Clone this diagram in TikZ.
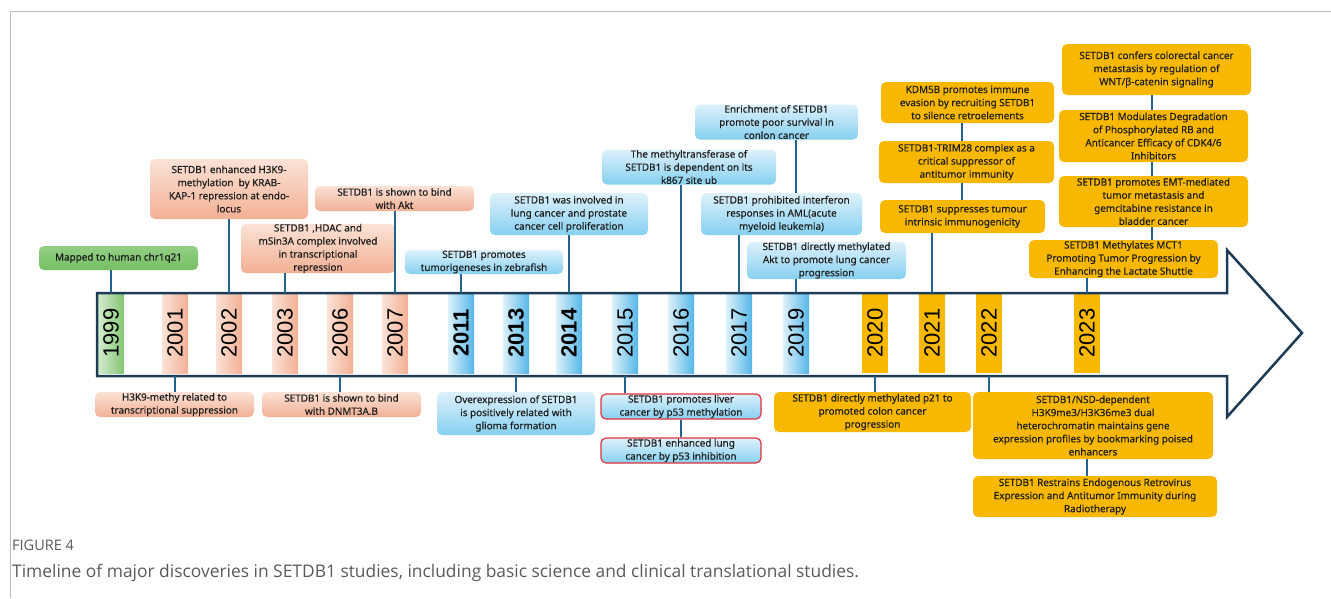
\documentclass[tikz,border=0pt]{standalone}
\usepackage{fontspec}
\setmainfont{Noto Sans}[FakeBold=0.35]
\newfontfamily\boxfont{Noto Sans}[FakeBold=0.4]
\newfontfamily\yearfont{Liberation Sans}
\newfontfamily\capfont{Open Sans}
\definecolor{salA}{HTML}{FBE2D6}
\definecolor{salB}{HTML}{F2B094}
\definecolor{bluA}{HTML}{DDF1FB}
\definecolor{bluB}{HTML}{86D0F0}
\definecolor{bandB}{HTML}{55B6E8}
\definecolor{grnA}{HTML}{93CF85}
\definecolor{grnB}{HTML}{76BE64}
\definecolor{gold}{HTML}{F8B800}
\definecolor{conncol}{HTML}{21628F}
\definecolor{arrcol}{HTML}{1D3B55}
\definecolor{txt}{HTML}{1E1E1E}
\definecolor{redb}{HTML}{E4303C}
\definecolor{capgray}{HTML}{5A5A5A}
\definecolor{framegray}{HTML}{BDBDBD}
\begin{document}
\begin{tikzpicture}[x=1pt,y=-1pt,
  ev/.style={rounded corners=5pt, align=center, inner sep=0pt, text=txt,
    font=\boxfont\fontsize{9.9}{13.1}\selectfont},
  salbox/.style={ev, top color=salA, bottom color=salB},
  blubox/.style={ev, top color=bluA, bottom color=bluB},
  grnbox/.style={ev, top color=grnA, bottom color=grnB},
  goldbox/.style={ev, fill=gold},
  redbox/.style={blubox, draw=redb, line width=1.2pt},
  band/.style={minimum width=26pt, minimum height=80pt, inner sep=0pt, draw=none},
  yeartxt/.style={rotate=90, inner sep=0pt, font=\yearfont\fontsize{22}{22}\selectfont, text=black},
  conn/.style={draw=conncol, line width=2.5pt},
  sz/.style 2 args={minimum width=#1pt, minimum height=#2pt},
]
\useasboundingbox (0,0) rectangle (1331,598);
% frame lines
\draw[framegray, line width=1pt] (10.5,598) -- (10.5,11.5) -- (1331,11.5);

% year bands
\node[band, left color=grnA!40, right color=grnB!90] (y1999) at (111,333) {};
\foreach \yr/\xx in {2001/175,2002/229,2003/285,2006/340,2007/395}
  \node[band, left color=salA, right color=salB] (y\yr) at (\xx,333) {};
\foreach \yr/\xx in {2011/461,2013/516,2014/569,2015/625,2016/681,2017/739,2019/796}
  \node[band, left color=bluA, right color=bandB] (y\yr) at (\xx,333) {};
\foreach \yr/\xx in {2020/875,2021/932,2022/989,2023/1087}
  \node[band, fill=gold] (y\yr) at (\xx,333) {};

\foreach \yr in {1999,2001,2002,2003,2006,2007,2015,2016,2017,2019,2020,2021,2022,2023}
  \node[yeartxt] (t\yr) at (y\yr) {\yr};
\foreach \yr in {2011,2013,2014}
  \node[yeartxt, font=\yearfont\bfseries\fontsize{22}{22}\selectfont] (t\yr) at (y\yr) {\yr};

% arrow outline
\draw[arrcol, line width=2.5pt, line join=miter]
  (97,293) -- (1227,293) -- (1227,250) -- (1302,333) -- (1227,417) -- (1227,376) -- (97,376) -- cycle;

% top boxes
\node[grnbox, sz={159}{24}] (b1) at (118.5,258) {Mapped to human chr1q21};
\node[salbox, sz={158}{60}] (b2) at (229,189) {SETDB1 enhanced H3K9-\\methylation\ \ by KRAB-\\KAP-1 repression at endo-\\locus};
\node[salbox, sz={154}{49}] (b3) at (318,248.5) {SETDB1 ,HDAC and\\mSin3A complex involved\\in transcriptional\\repression};
\node[salbox, sz={159}{25}] (b4) at (394.5,198.5) {SETDB1 is shown to bind\\with Akt};
\node[blubox, sz={158}{24}] (b5) at (484,262) {SETDB1 promotes\\tumorigeneses in zebrafish};
\node[blubox, sz={158}{42}] (b6) at (569,214) {SETDB1 was involved in\\lung cancer and prostate\\cancer cell proliferation};
\node[blubox, sz={174}{35}] (b7) at (689,167) {The methyltransferase of\\SETDB1 is dependent on its\\k867 site ub};
\node[blubox, sz={163}{35}] (b8) at (776.5,122) {Enrichment of SETDB1\\promote poor survival in\\conlon cancer};
\node[blubox, sz={161}{42}] (b9) at (781.5,214) {SETDB1 prohibited interferon\\responses in AML(acute\\myeloid leukemia)};
\node[blubox, sz={159}{37}] (b10) at (826.5,260.5) {SETDB1 directly methylated\\Akt to promote lung cancer\\progression};
\node[goldbox, sz={173}{41}] (b11) at (967.5,102.5) {KDM5B promotes immune\\evasion by recruiting SETDB1\\to silence retroelements};
\node[goldbox, sz={175}{42}] (b12) at (966.5,162) {SETDB1-TRIM28 complex as a\\critical suppressor of\\antitumor immunity};
\node[goldbox, sz={165}{33}] (b13) at (962.5,216.5) {SETDB1 suppresses tumour\\intrinsic immunogenicity};
\node[goldbox, sz={189}{51}] (b14) at (1156.5,69.5) {SETDB1 confers colorectal cancer\\metastasis by regulation of\\WNT/β-catenin signaling};
\node[goldbox, sz={189}{52}] (b15) at (1153.5,136) {SETDB1 Modulates Degradation\\of Phosphorylated RB and\\Anticancer Efficacy of CDK4/6\\Inhibitors};
\node[goldbox, sz={189}{51}] (b16) at (1153.5,201.5) {SETDB1 promotes EMT-mediated\\tumor metastasis and\\gemcitabine resistance in\\bladder cancer};
\node[goldbox, sz={189}{38}] (b17) at (1123.5,259) {SETDB1 Methylates MCT1\\Promoting Tumor Progression by\\Enhancing the Lactate Shuttle};

% bottom boxes
\node[salbox, sz={159}{25}] (c1) at (174.5,404.5) {H3K9-methy related to\\transcriptional suppression};
\node[salbox, sz={159}{25}] (c2) at (341.5,404.5) {SETDB1 is shown to bind\\with DNMT3A.B};
\node[blubox, sz={158}{43}] (c3) at (516,413.5) {Overexpression of SETDB1\\is positively related with\\glioma formation};
\node[redbox, sz={160}{25}] (c4) at (681,406.5) {SETDB1 promotes liver\\cancer by p53 methylation};
\node[redbox, sz={160}{25}] (c5) at (681,450.5) {SETDB1 enhanced lung\\cancer by p53 inhibition};
\node[goldbox, sz={197}{40}] (c6) at (872.5,412) {SETDB1 directly methylated p21 to\\promoted colon cancer\\progression};
\node[goldbox, sz={240}{67}] (c7) at (1093,425.5) {SETDB1/NSD-dependent\\H3K9me3/H3K36me3 dual\\heterochromatin maintains gene\\expression profiles by bookmarking poised\\enhancers};
\node[goldbox, sz={244}{41}] (c8) at (1095,496.5) {SETDB1 Restrains Endogenous Retrovirus\\Expression and Antitumor Immunity during\\Radiotherapy};

% connectors top
\coordinate (k1) at (962,0);
\coordinate (k2) at (1152,0);
\draw[conn] (b1.south -| y1999) -- (y1999.north);
\draw[conn] (b2.south -| y2002) -- (y2002.north);
\draw[conn] (b3.south -| y2003) -- (y2003.north);
\draw[conn] (b4.south -| y2007) -- (y2007.north);
\draw[conn] (b5.south -| y2011) -- (y2011.north);
\draw[conn] (b6.south -| y2014) -- (y2014.north);
\draw[conn] (b7.south -| y2016) -- (y2016.north);
\draw[conn] (b8.south -| y2019) -- (b9.north -| y2019);
\draw[conn] (b9.south -| y2017) -- (y2017.north);
\draw[conn] (b10.south -| y2019) -- (y2019.north);
\draw[conn] (b11.south -| k1) -- (b12.north -| k1);
\draw[conn] (b12.south -| k1) -- (b13.north -| k1);
\draw[conn] (b13.south -| y2021) -- (y2021.north);
\draw[conn] (b14.south -| k2) -- (b15.north -| k2);
\draw[conn] (b15.south -| k2) -- (b16.north -| k2);
\draw[conn] (b16.south -| k2) -- (b17.north -| k2);
\draw[conn] (b17.south -| y2023) -- (y2023.north);
% connectors bottom
\draw[conn] (y2001.south) ++(0,3) -- (c1.north -| y2001);
\draw[conn] (y2006.south) ++(0,3) -- (c2.north -| y2006);
\draw[conn] (y2013.south) ++(0,3) -- (c3.north -| y2013);
\draw[conn] (y2015.south) ++(0,3) -- (c4.north -| y2015);
\draw[conn] (c4.south) -- (c5.north);
\draw[conn] (y2020.south) ++(0,3) -- (c6.north -| y2020);
\draw[conn] (y2022.south) ++(0,3) -- (c7.north -| y2022);
\draw[conn] (c7.south -| y2023) -- (c8.north -| y2023);

% caption
\node[anchor=base west, inner sep=0pt, text=capgray, font=\capfont\fontsize{14.5}{15}\selectfont] (fig) at (12,550) {FIGURE 4};
\node[anchor=base west, inner sep=0pt, text=capgray, font=\capfont\fontsize{17.4}{18}\selectfont] (cap) at (12,577) {Timeline of major discoveries in SETDB1 studies, including basic science and clinical translational studies.};
\end{tikzpicture}
\end{document}
